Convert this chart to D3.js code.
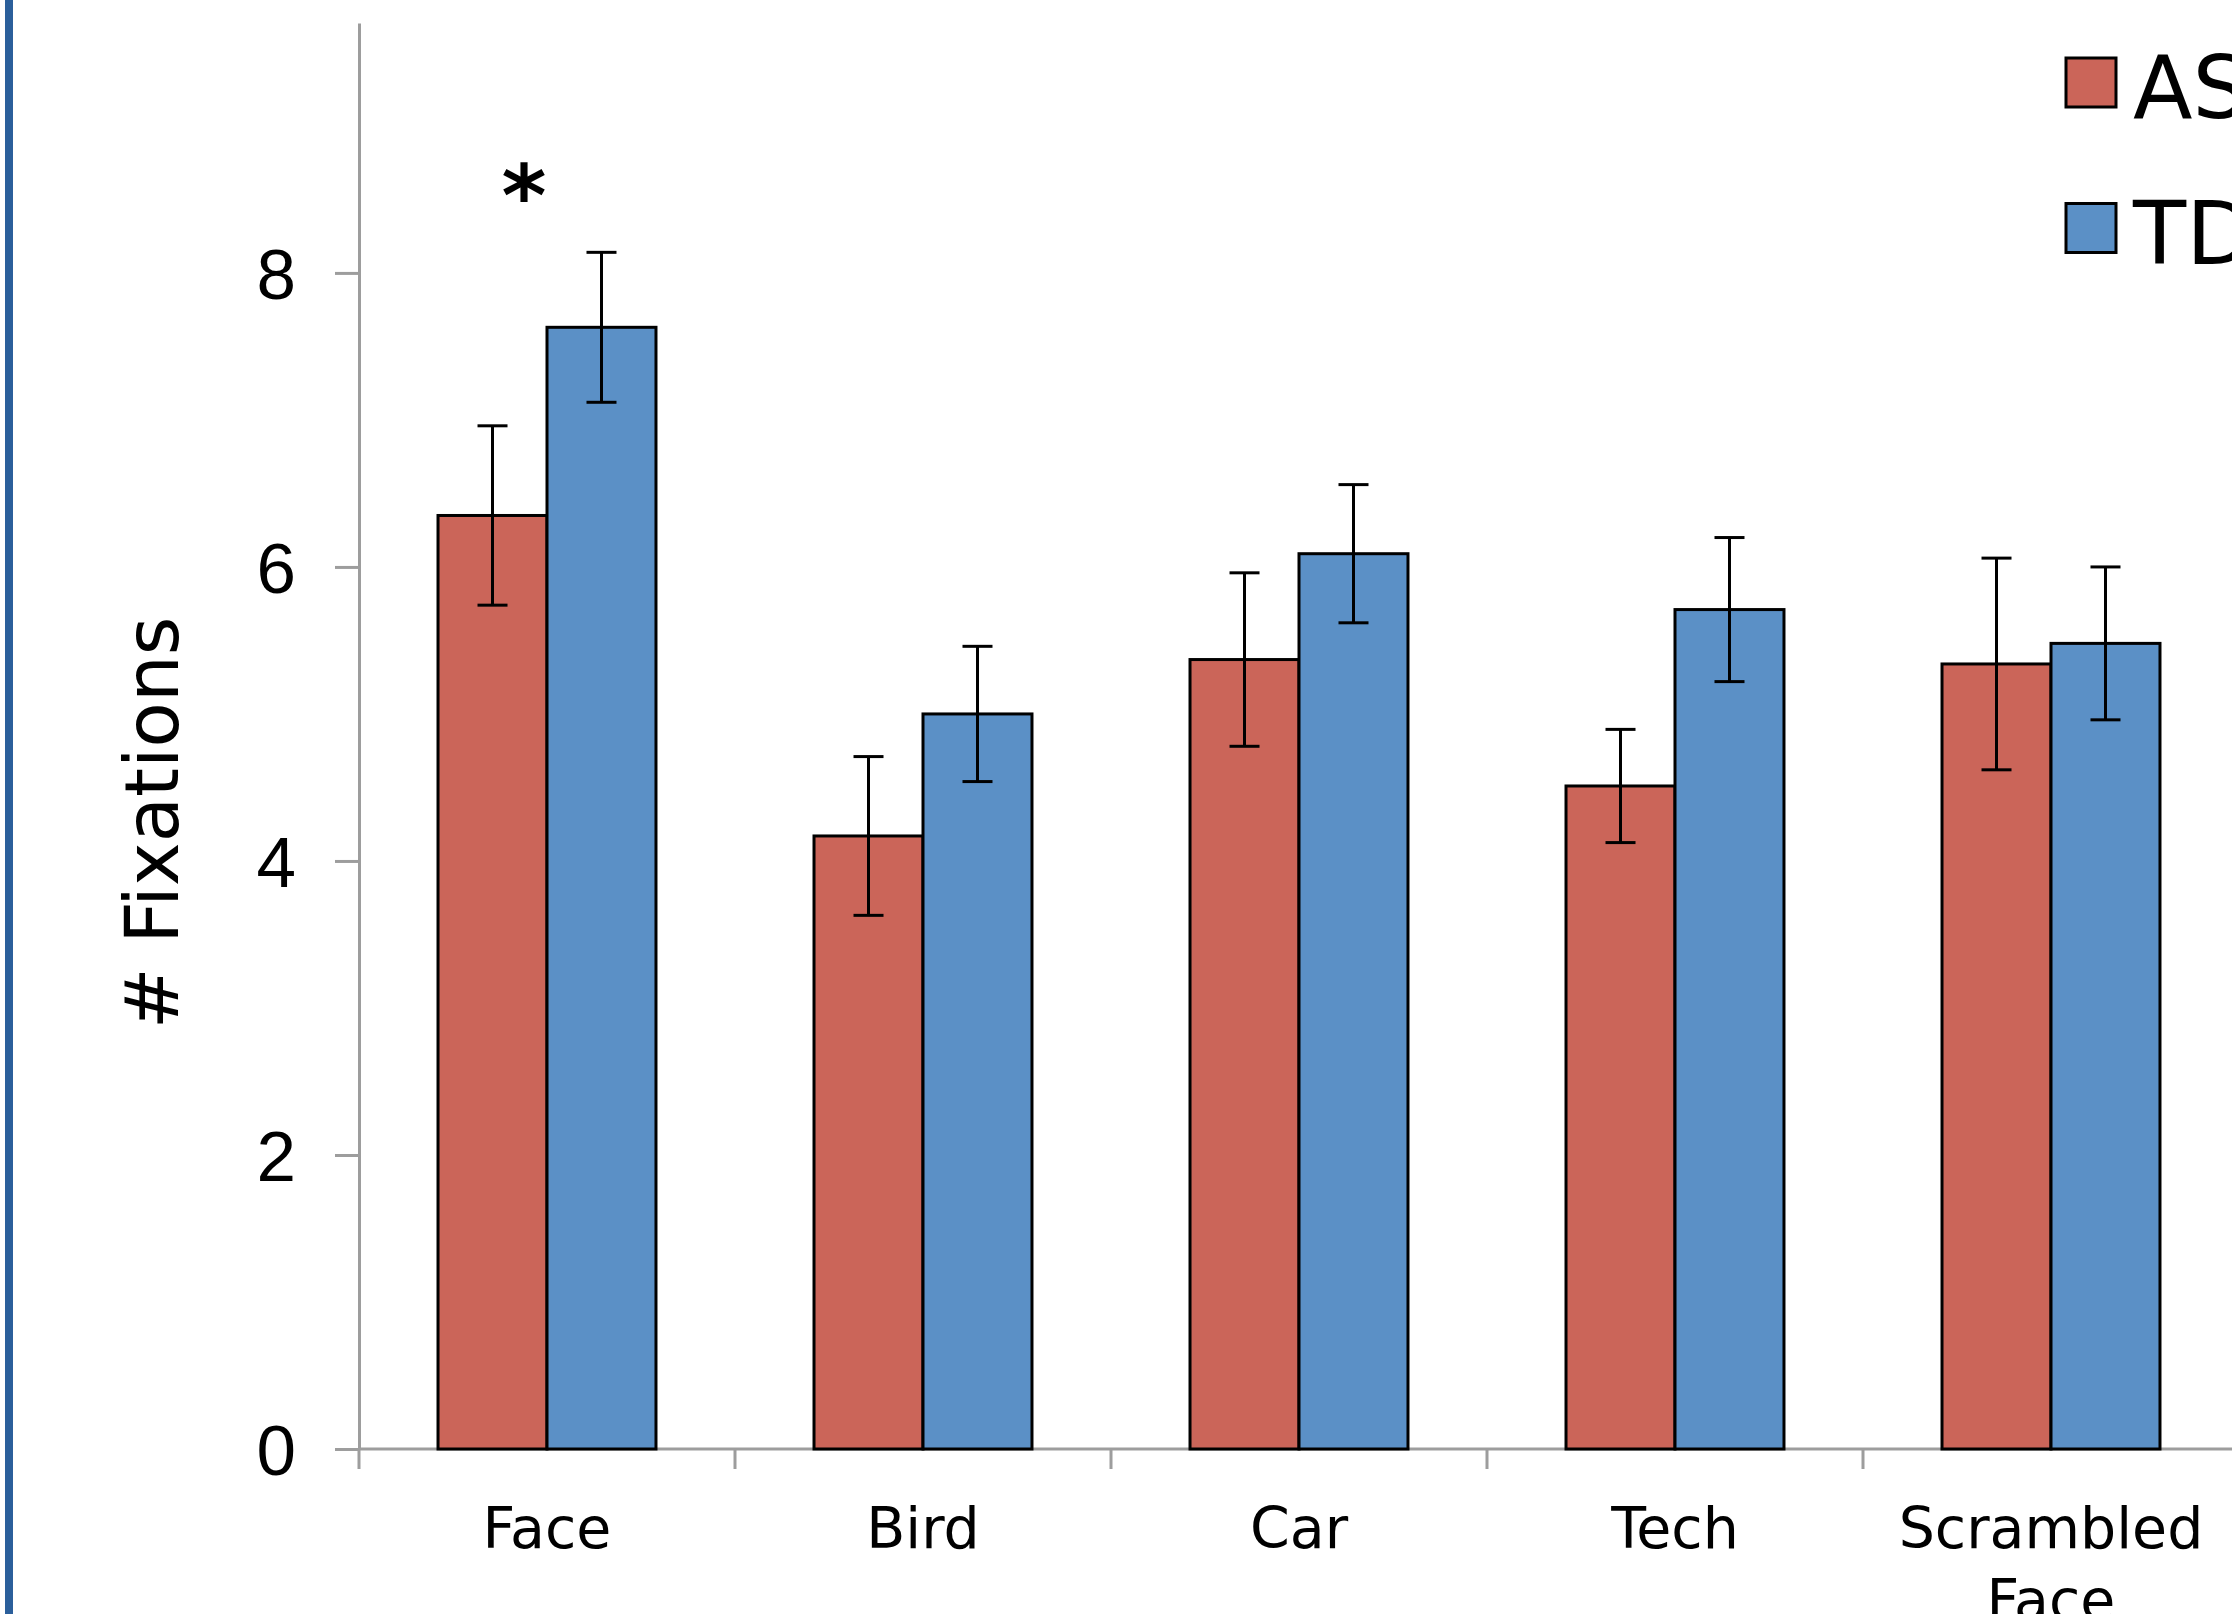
<!DOCTYPE html>
<html>
<head>
<meta charset="utf-8">
<script src="https://cdn.jsdelivr.net/npm/d3@7"></script>
<style>
  html, body { margin: 0; padding: 0; background: #fff; overflow: hidden; }
  svg { display: block; font-family: "DejaVu Sans", Verdana, sans-serif; }
</style>
</head>
<body>
<svg id="chart"></svg>
<script>
// data
const categories = ["Face", "Bird", "Car", "Tech", "Scrambled Face"];
const groups = ["ASD", "TD"];
const asdMeans = [6.35, 4.17, 5.37, 4.51, 5.34];
const asdErr = [0.61, 0.54, 0.59, 0.385, 0.72];
const tdMeans = [7.63, 5.00, 6.09, 5.71, 5.48];
const tdErr = [0.51, 0.46, 0.47, 0.49, 0.52];
const yTicks = [0, 2, 4, 6, 8];
const significant = ["Face"];

const colors = {ASD: "#CB6559", TD: "#5B90C6"};
const axisColor = "#9d9d9d";

const W = 2232, H = 1614;
const left = 359, zeroY = 1449, topY = 23;

const svg = d3.select("#chart").attr("width", W).attr("height", H);

// left border strip from the slide
svg.append("rect").attr("x", 5).attr("y", 0).attr("width", 8).attr("height", H)
    .attr("fill", "#2B5F9B");

const x = d3.scaleBand().domain(categories).range([left, left + 5 * 376]);
const xSub = d3.scaleBand().domain(groups).range([0, x.bandwidth()])
    .paddingInner(0).paddingOuter(0.725);
const y = d3.scaleLinear().domain([0, 9.7]).range([zeroY, topY]);

let rows = categories.map(function(c, i) {
    return [
        {cat: c, group: "ASD", value: asdMeans[i], err: asdErr[i]},
        {cat: c, group: "TD", value: tdMeans[i], err: tdErr[i]}
    ];
});

// y axis
const yAxis = d3.axisLeft(y).tickValues(yTicks).tickSize(24).tickSizeOuter(0).tickPadding(39);
const yg = svg.append("g").attr("transform", "translate(" + left + ",0)").call(yAxis);
yg.select(".domain").attr("stroke", axisColor).attr("stroke-width", 3);
yg.selectAll(".tick line").attr("stroke", axisColor).attr("stroke-width", 3);
yg.selectAll(".tick text").attr("fill", "#000").style("font-size", "71px").attr("dy", "0.36em");

// x axis line + boundary ticks
svg.append("line").attr("x1", left).attr("x2", W).attr("y1", zeroY).attr("y2", zeroY)
    .attr("stroke", axisColor).attr("stroke-width", 3);
svg.selectAll(".xtick").data(categories).enter().append("line")
    .attr("class", "xtick")
    .attr("x1", function(d) { return x(d); }).attr("x2", function(d) { return x(d); })
    .attr("y1", zeroY).attr("y2", zeroY + 20)
    .attr("stroke", axisColor).attr("stroke-width", 3);

// category labels
const lab = svg.selectAll(".xlabel").data(categories).enter().append("text")
    .attr("class", "xlabel")
    .attr("text-anchor", "middle")
    .style("font-size", "57px");
lab.each(function(d) {
    const t = d3.select(this);
    d.split(" ").forEach(function(w, j) {
        t.append("tspan").attr("x", x(d) + x.bandwidth() / 2)
            .attr("y", 1548 + j * 72).text(w);
    });
});

// bars
const g = svg.selectAll(".grp").data(rows).enter().append("g")
    .attr("class", "grp")
    .attr("transform", function(d) { return "translate(" + x(d[0].cat) + ",0)"; });

g.selectAll("rect").data(function(d) { return d; }).enter().append("rect")
    .attr("x", function(d) { return xSub(d.group); })
    .attr("y", function(d) { return y(d.value); })
    .attr("width", xSub.bandwidth())
    .attr("height", function(d) { return zeroY - y(d.value); })
    .attr("fill", function(d) { return colors[d.group]; })
    .attr("stroke", "#000").attr("stroke-width", 3);

// error bars
const eb = g.selectAll(".err").data(function(d) { return d; }).enter().append("g")
    .attr("class", "err")
    .attr("stroke", "#000").attr("stroke-width", 3);
eb.append("line")
    .attr("x1", function(d) { return xSub(d.group) + xSub.bandwidth() / 2; })
    .attr("x2", function(d) { return xSub(d.group) + xSub.bandwidth() / 2; })
    .attr("y1", function(d) { return y(d.value + d.err); })
    .attr("y2", function(d) { return y(d.value - d.err); });
[1, -1].forEach(function(s) {
    eb.append("line")
        .attr("x1", function(d) { return xSub(d.group) + xSub.bandwidth() / 2 - 15; })
        .attr("x2", function(d) { return xSub(d.group) + xSub.bandwidth() / 2 + 15; })
        .attr("y1", function(d) { return y(d.value + s * d.err); })
        .attr("y2", function(d) { return y(d.value + s * d.err); });
});

// significance star
svg.selectAll(".star").data(significant).enter().append("text")
    .attr("class", "star")
    .attr("x", function(d) { return x(d) + x.bandwidth() / 2 - 23; })
    .attr("y", 226)
    .attr("text-anchor", "middle")
    .style("font-size", "86px").style("font-weight", "bold")
    .text("*");

// y title
svg.append("text")
    .attr("transform", "translate(178,823) rotate(-90)")
    .attr("text-anchor", "middle")
    .style("font-size", "74px")
    .text("# Fixations");

// legend
const leg = svg.selectAll(".leg").data(groups).enter().append("g")
    .attr("class", "leg")
    .attr("transform", function(d, i) { return "translate(2066," + (58 + i * 145.5) + ")"; });
leg.append("rect").attr("width", 50).attr("height", 49)
    .attr("fill", function(d) { return colors[d]; })
    .attr("stroke", "#000").attr("stroke-width", 3);
leg.append("text").attr("x", 67).attr("y", 60)
    .style("font-size", "87px")
    .text(function(d) { return d; });
</script>
</body>
</html>
